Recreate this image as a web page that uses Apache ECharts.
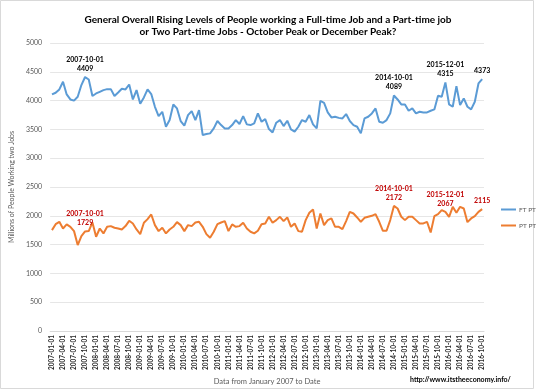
<!DOCTYPE html>
<html><head><meta charset="utf-8">
<script src="https://cdn.jsdelivr.net/npm/echarts@6/dist/echarts.min.js"></script>
<style>html,body{margin:0;padding:0;background:#fff}#c{width:538px;height:391px}</style>
</head><body><div id="c"></div>
<script>
// month categories 2007-01-01 .. 2016-10-01
var categories = [];
for (var y = 2007; y <= 2016; y++) {
  for (var m = 1; m <= 12; m++) {
    if (y === 2016 && m > 10) break;
    categories.push(y + '-' + (m < 10 ? '0' + m : m) + '-01');
  }
}
var ftpt = [
4107,4136,4194,4327,4107,4020,4000,4066,4270,4409,4367,4080,4124,4153,4182,4199,4199,4080,4141,4205,
4194,4280,4020,4182,3945,4055,4194,4113,3893,3731,3806,3546,3662,3933,3864,3645,3564,3749,3818,3662,
3835,3402,3419,3431,3517,3645,3575,3517,3517,3575,3662,3593,3731,3587,3575,3604,3778,3633,3679,3506,
3448,3616,3662,3558,3650,3500,3460,3546,3662,3633,3749,3587,3517,3994,3962,3795,3708,3720,3700,3691,
3766,3645,3575,3546,3431,3691,3720,3778,3864,3633,3616,3662,3778,4089,4020,3933,3933,3824,3864,3778,
3806,3795,3795,3824,3847,4084,4066,4315,3933,3893,4251,3922,4038,3893,3847,3980,4298,4373];
var ptpt = [
1751,1855,1896,1780,1850,1809,1734,1491,1647,1729,1734,1884,1636,1780,1694,1809,1821,1792,1780,1763,
1821,1913,1867,1763,1682,1879,1942,2023,1838,1734,1792,1694,1763,1809,1890,1838,1734,1838,1821,1884,
1896,1809,1682,1619,1723,1855,1884,1908,1734,1850,1809,1821,1879,1780,1723,1694,1740,1855,1867,1983,
1879,1925,1983,1908,1971,1809,1867,1734,1723,1925,2052,2110,1780,2040,1838,1925,1954,1809,1809,1769,
1908,2069,2040,1971,1896,1965,1983,2000,2029,1896,1740,1740,1925,2172,2127,1983,1925,1983,1983,1925,
1867,1867,1896,1711,1994,2029,2098,2067,1983,2156,2052,2156,2127,1890,1954,1994,2069,2115];
var labelDates = ['2007-10-01', '2014-10-01', '2015-12-01'];
var yTicks = [0, 500, 1000, 1500, 2000, 2500, 3000, 3500, 4000, 4500, 5000];

function buildData(vals, color) {
  var last = vals.length - 1;
  return vals.map(function (v, i) {
    var d = categories[i];
    if (labelDates.indexOf(d) >= 0) {
      return {value: v, label: {show: true, position: 'top', distance: 4, color: color,
        fontFamily: 'Lato', fontWeight: 'bold', fontSize: 7, lineHeight: 9,
        formatter: d + '\n' + v}};
    }
    if (i === last) {
      return {value: v, label: {show: true, position: 'top', distance: 4, color: color,
        fontFamily: 'Lato', fontWeight: 'bold', fontSize: 7, lineHeight: 9,
        formatter: '' + v}};
    }
    return v;
  });
}

var chart = echarts.init(document.getElementById('c'), null, {renderer: 'canvas'});
chart.setOption({
  animation: false,
  backgroundColor: '#fff',
  title: {
    text: 'General Overall Rising Levels of People working a Full-time Job and a Part-time job\nor Two Part-time Jobs - October Peak or December Peak?',
    left: 263, top: 9, textAlign: 'center',
    textStyle: {fontFamily: 'Lato', fontWeight: 'bold', fontSize: 10, lineHeight: 12, color: '#000'}
  },
  grid: {left: 43, right: 54, top: 43, bottom: 60},
  legend: {
    orient: 'vertical', left: 496, top: 201, itemWidth: 15, itemHeight: 2, itemGap: 9,
    icon: 'rect',
    textStyle: {fontFamily: 'Lato', fontSize: 6.5, color: '#595959', padding: [0, 0, 0, -2]},
    data: ['FT PT', 'PT PT']
  },
  xAxis: {
    type: 'category', data: categories, boundaryGap: true,
    name: 'Data from January 2007 to Date', nameLocation: 'middle', nameGap: 42,
    nameTextStyle: {fontFamily: 'Lato', fontSize: 7.5, color: '#595959'},
    axisLine: {lineStyle: {color: '#d9d9d9'}},
    axisTick: {show: false},
    axisLabel: {interval: 2, rotate: 90, fontFamily: 'Lato', fontWeight: 'bold', fontSize: 6.5, color: '#262626', margin: 4}
  },
  yAxis: {
    type: 'value', min: yTicks[0], max: yTicks[yTicks.length - 1], interval: 500,
    name: 'Millions of People Working two Jobs', nameLocation: 'middle', nameGap: 26,
    nameTextStyle: {fontFamily: 'Lato', fontSize: 7, color: '#595959'},
    axisLine: {show: false}, axisTick: {show: false},
    axisLabel: {fontFamily: 'Lato', fontSize: 7, color: '#595959', margin: 8,
      formatter: function (v) { return '' + v; }},
    splitLine: {lineStyle: {color: '#e6e6e6'}}
  },
  graphic: [
    {type: 'rect', shape: {x: 0.5, y: 0.5, width: 533, height: 388},
     style: {fill: 'none', stroke: '#d9d9d9', lineWidth: 1}},
    {type: 'text', left: 410, top: 376,
     style: {text: 'http://www.itstheeconomy.info/', fontFamily: 'Lato', fontWeight: 'bold', fontSize: 7, fill: '#000'}}
  ],
  series: [
    {name: 'FT PT', type: 'line', data: buildData(ftpt, '#000'), color: '#5b9bd5',
     lineStyle: {width: 2, color: '#5b9bd5'}, symbol: 'circle', symbolSize: 0, showSymbol: true, showAllSymbol: true},
    {name: 'PT PT', type: 'line', data: buildData(ptpt, '#c00000'), color: '#ed7d31',
     lineStyle: {width: 2, color: '#ed7d31'}, symbol: 'circle', symbolSize: 0, showSymbol: true, showAllSymbol: true}
  ]
});
</script></body></html>
